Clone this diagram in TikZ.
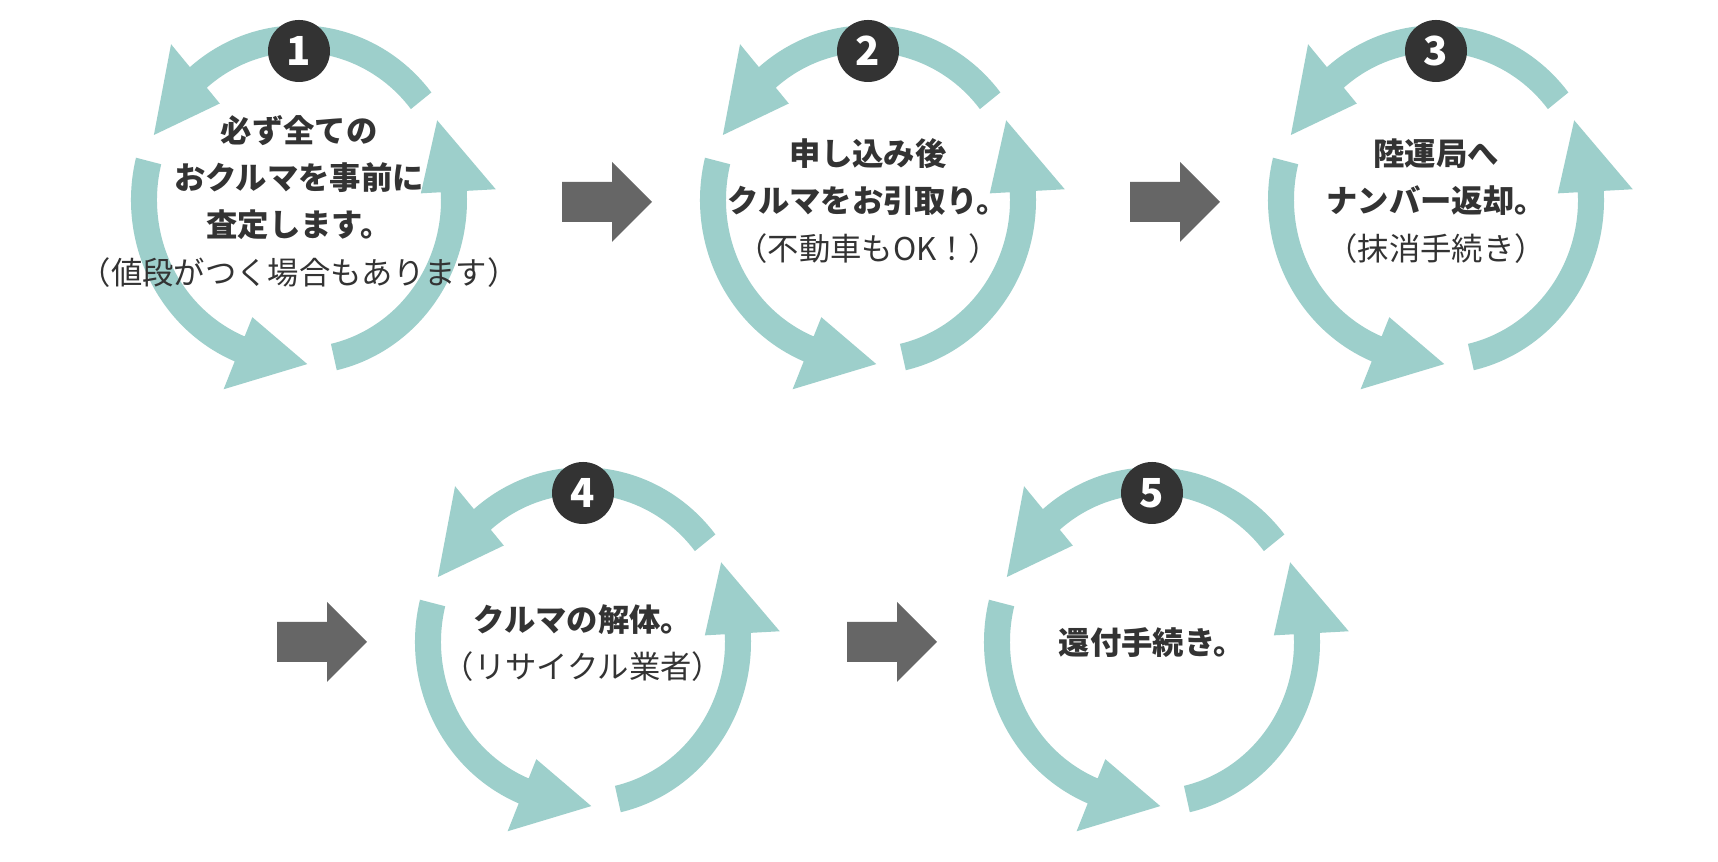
\documentclass[tikz,border=0pt]{standalone}
\usepackage{fontspec}
\newfontfamily\jp{Noto Sans CJK JP}
\usepackage{tikz}
\definecolor{ringteal}{HTML}{9DCFCB}
\definecolor{badgegray}{HTML}{333333}
\definecolor{nextgray}{HTML}{666666}
\definecolor{txtgray}{HTML}{333333}
\tikzset{ringpart/.style={fill=ringteal}}
\tikzset{badge/.style={circle, fill=badgegray, text=white, inner sep=0pt,
    minimum size=46.5pt, font=\jp\bfseries\fontsize{30}{30}\selectfont}}
\tikzset{steptext/.style={align=center, text=txtgray,
    font=\jp\bfseries\fontsize{23.5}{35.5}\selectfont}}
\tikzset{nextarrow/.style={fill=nextgray}}

\begin{document}
\begin{tikzpicture}[x=0.75pt,y=0.75pt]
  \fill[white] (0,0) rectangle (1718,862);
  \useasboundingbox (0,0) rectangle (1718,862);
  % the five steps
  \foreach \n/\cx/\cy/\txt in {
    1/299/662/{必ず全ての\\おクルマを事前に\\査定します。\\{\mdseries （値段がつく場合もあります）}},
    2/868/662/{申し込み後\\クルマをお引取り。\\{\mdseries （不動車もOK！）}},
    3/1436/662/{陸運局へ\\ナンバー返却。\\{\mdseries （抹消手続き）}},
    4/583/220/{クルマの解体。\\{\mdseries （リサイクル業者）}},
    5/1152/220/{還付手続き。}%
  } {
    \coordinate (c\n) at (\cx,\cy);
    \begin{scope}[shift={(c\n)}, yscale=1.04]
      \foreach \from/\base/\tip in {38/130.5/156.7, 166/247.5/273, 283/363/389}
        \fill[ringpart] (\from:168) arc[start angle=\from, end angle=\base, radius=168]
          -- (\base:197) -- (\tip:158) -- (\base:122) -- (\base:142)
          arc[start angle=\base, end angle=\from, radius=142] -- cycle;
    \end{scope}
    \node[badge] (b\n) at (\cx,\cy+149) {\n};
    \node[steptext] (t\n) at (\cx,\cy-1) {\txt};
  }
  % arrows between the steps
  \foreach \tipx/\tipy in {652/660, 1220/660, 367/220, 937/220} {
    \coordinate (nx) at (\tipx,\tipy);
    \fill[nextarrow] (nx) -- ++(-40,40) -- ++(0,-20) -- ++(-50,0)
      -- ++(0,-40) -- ++(50,0) -- ++(0,-20) -- cycle;
  }
\end{tikzpicture}
\end{document}
